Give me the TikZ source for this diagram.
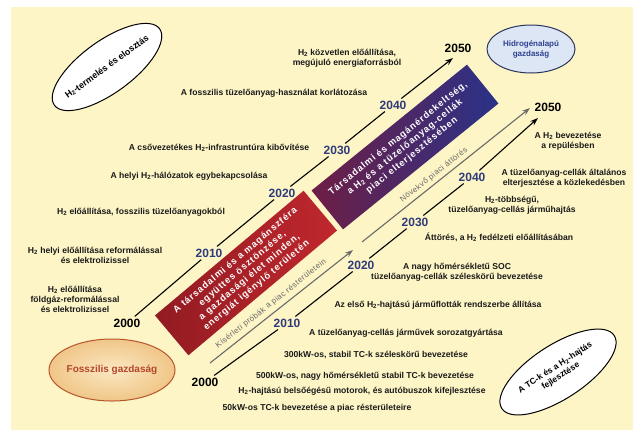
\documentclass[tikz,border=0pt]{standalone}
\usepackage{fontspec}
\setmainfont{Liberation Sans}
\usetikzlibrary{arrows.meta,shapes.geometric}
\definecolor{bgyellow}{HTML}{FDF5C6}
\definecolor{yearblue}{HTML}{2E3A7A}
\definecolor{redA}{HTML}{921B22}
\definecolor{redB}{HTML}{C0282D}
\definecolor{purpA}{HTML}{6E1E45}
\definecolor{blueB}{HTML}{2A3288}
\definecolor{fossIn}{HTML}{FBE8C2}
\definecolor{fossOut}{HTML}{F0C688}
\definecolor{fossLine}{HTML}{B8552C}
\definecolor{fossText}{HTML}{B5452A}
\definecolor{hydFill}{HTML}{DCE6F4}
\definecolor{hydLine}{HTML}{2A3560}
\definecolor{hydText}{HTML}{2E4190}
\definecolor{trialgray}{HTML}{6A6A6A}
\definecolor{labelblack}{HTML}{1A1A1A}
\begin{document}
\begin{tikzpicture}[x=1pt,y=-1pt,
  lbl/.style={font=\fontsize{8.6}{10}\selectfont\bfseries, align=center, inner sep=0pt, text=labelblack},
  yr/.style={font=\fontsize{12}{12}\selectfont\bfseries, text=yearblue, inner sep=1.5pt},
  yrk/.style={yr, text=black},
  tl/.style={line width=1.1pt, black, shorten <=1pt, shorten >=1pt},
  tlg/.style={line width=1.1pt, trialgray},
  arr/.style={-{Stealth[length=8pt,width=5.5pt]}},
  band/.style={minimum width=194pt, minimum height=52pt, inner sep=0pt, align=center, text=white,
    font=\fontsize{9.3}{10.9}\selectfont\bfseries\addfontfeatures{LetterSpace=10}},
  oval/.style={ellipse, draw, line width=1pt, inner sep=0pt},
  graytext/.style={font=\fontsize{8}{9}\selectfont\addfontfeatures{LetterSpace=5}, text=trialgray, inner sep=0pt},
]
\useasboundingbox (0,0) rectangle (644,432);
\fill[white] (0,0) rectangle (644,432);
\fill[bgyellow] (11,7) rectangle (633,430);

% ellipses
\node[oval, fill=white, minimum width=130pt, minimum height=52pt, rotate=36] (prod) at (107,67) {};
\node[rotate=36, font=\fontsize{9}{10}\selectfont\bfseries, inner sep=0pt] (prodt) at (prod.center) {H\textsubscript{2}-termelés és elosztás};

\node[oval, draw=hydLine, fill=hydFill, minimum width=88pt, minimum height=48pt] (hyd) at (531,49) {};
\node[font=\fontsize{8}{10}\selectfont\bfseries, text=hydText, align=center, inner sep=0pt] (hydt) at (hyd.center) {Hidrogénalapú\\gazdaság};

\node[oval, draw=fossLine, inner color=fossIn, outer color=fossOut, minimum width=126pt, minimum height=62pt] (foss) at (112,370) {};
\node[font=\fontsize{10}{12}\selectfont\bfseries, text=fossText, inner sep=0pt] (fosst) at (foss.center) {Fosszilis gazdaság};

\node[oval, fill=white, minimum width=134pt, minimum height=54pt, rotate=33] (tc) at (558,372) {};
\node[rotate=33, font=\fontsize{8.5}{10}\selectfont\bfseries, align=center, inner sep=0pt] (tct) at (tc.center) {A TC-k és a H\textsubscript{2}-hajtás\\fejlesztése};

% bands
\node[band, rotate=40, left color=redA, right color=redB] (red) at (246,273)
  {A társadalmi és a magánszféra\\együttes ösztönzése,\\a gazdasági élet minden,\\energiát igénylő területén};
\node[band, rotate=39, minimum width=200pt, minimum height=50pt, left color=purpA, right color=blueB] (blue) at (405,147)
  {Társadalmi és magánérdekeltség,\\a H\textsubscript{2} és a tüzelőanyag-cellák\\piaci elterjesztésében};

% upper timeline
\node[yrk] (u2000) at (127,323) {2000};
\node[yr] (u2010) at (209,253) {2010};
\node[yr] (u2020) at (282,193) {2020};
\node[yr] (u2030) at (337,150) {2030};
\node[yr] (u2040) at (393,105) {2040};
\node[yrk] (u2050) at (458,48) {2050};
\coordinate (utip) at (453,58);
\draw[tl] (u2000) -- (u2010);
\draw[tl] (u2010) -- (u2020);
\draw[tl] (u2020) -- (u2030);
\draw[tl] (u2030) -- (u2040);
\draw[tl, arr, shorten >=0pt] (u2040) -- (utip);

% lower timeline
\node[yrk] (l2000) at (205,382) {2000};
\node[yr] (l2010) at (287,323) {2010};
\node[yr] (l2020) at (361,265) {2020};
\node[yr] (l2030) at (415,222) {2030};
\node[yr] (l2040) at (472,177) {2040};
\node[yrk] (l2050) at (548,107) {2050};
\coordinate (ltip) at (538,118);
\draw[tl] (l2000) -- (l2010);
\draw[tl] (l2010) -- (l2020);
\draw[tl] (l2020) -- (l2030);
\draw[tl] (l2030) -- (l2040);
\draw[tl, arr, shorten >=0pt] (l2040) -- (ltip);

% gray market lines
\coordinate (g1s) at (210,363);
\coordinate (g1e) at (353,250);
\coordinate (g2s) at (362,242);
\coordinate (g2e) at (530,108);
\draw[tlg, arr] (g1s) -- (g1e);
\draw[tlg, arr] (g2s) -- (g2e);
\node[graytext, rotate=38.3] (g1t) at (271,304) {Kísérleti próbák a piac résterületein};
\node[graytext, rotate=38.6] (g2t) at (434,175) {Növekvő piaci áttörés};

% upper labels
\node[lbl] (a1) at (347,58) {H\textsubscript{2} közvetlen előállítása,\\megújuló energiaforrásból};
\node[lbl] (a2) at (274,93) {A fosszilis tüzelőanyag-használat korlátozása};
\node[lbl] (a3) at (219,148) {A csővezetékes H\textsubscript{2}-infrastruntúra kibővítése};
\node[lbl] (a4) at (189,176) {A helyi H\textsubscript{2}-hálózatok egybekapcsolása};
\node[lbl] (a5) at (141,212) {H\textsubscript{2} előállítása, fosszilis tüzelőanyagokból};
\node[lbl] (a6) at (95,255) {H\textsubscript{2} helyi előállítása reformálással\\és elektrolizissel};
\node[lbl] (a7) at (75,299) {H\textsubscript{2} előállítása\\földgáz-reformálással\\és elektrolizissel};

% lower labels
\node[lbl] (b1) at (568,141) {A H\textsubscript{2} bevezetése\\a repülésben};
\node[lbl] (b2) at (564,178) {A tüzelőanyag-cellák általános\\elterjesztése a közlekedésben};
\node[lbl] (b3) at (512,205) {H\textsubscript{2}-többségű,\\tüzelőanyag-cellás járműhajtás};
\node[lbl] (b4) at (499,237) {Áttörés, a H\textsubscript{2} fedélzeti előállításában};
\node[lbl] (b5) at (457,272) {A nagy hőmérsékletű SOC\\tüzelőanyag-cellák széleskörű bevezetése};
\node[lbl] (b6) at (438,305) {Az első H\textsubscript{2}-hajtású járműflották rendszerbe állítása};
\node[lbl] (b7) at (406,333) {A tüzelőanyag-cellás járművek sorozatgyártása};
\node[lbl] (b8) at (376,355) {300kW-os, stabil TC-k széleskörű bevezetése};
\node[lbl] (b9) at (365,376) {500kW-os, nagy hőmérsékletű stabil TC-k bevezetése};
\node[lbl] (b10) at (362,391) {H\textsubscript{2}-hajtású belsőégésű motorok, és autóbuszok kifejlesztése};
\node[lbl] (b11) at (317,408) {50kW-os TC-k bevezetése a piac résterületeire};
\end{tikzpicture}
\end{document}
